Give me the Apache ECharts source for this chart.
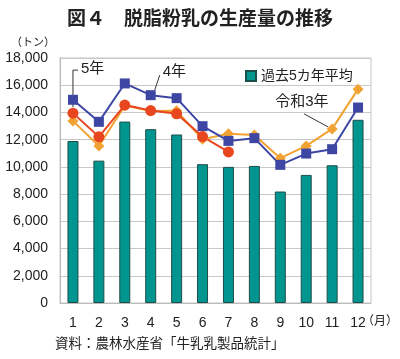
<!DOCTYPE html>
<html><head><meta charset="utf-8">
<script src="https://cdn.jsdelivr.net/npm/echarts@6/dist/echarts.min.js"></script>
<style>html,body{margin:0;padding:0;background:#fff}#c{width:400px;height:359px}</style>
</head><body><div id="c"></div>
<script>
var months = ['1','2','3','4','5','6','7','8','9','10','11','12'];
var avg5 = [11900,10460,13330,12770,12380,10200,10000,10070,8190,9410,10120,13460];
var r3 = [13380,11540,14500,14100,14120,12030,12430,12350,10640,11540,12790,15710];
var r4 = [14930,13310,16130,15270,15050,12990,11910,12110,10150,10980,11300,14360];
var r5 = [13950,12210,14540,14140,13900,12230,11100];
var yTicks = [0,2000,4000,6000,8000,10000,12000,14000,16000,18000];

var FF = '"Liberation Sans","Noto Sans CJK JP",sans-serif';
var chart = echarts.init(document.getElementById('c'));
chart.setOption({
  animation:false,
  title:{text:'図４　脱脂粉乳の生産量の推移',left:'center',top:3,
    textStyle:{fontFamily:'"Noto Sans CJK JP",sans-serif',fontSize:19,fontWeight:'bold',color:'#222'}},
  grid:{left:60,right:29,top:58,bottom:56,show:true,borderColor:'#c4c4c4',borderWidth:1},
  legend:{data:['過去5カ年平均'],left:240,top:64,itemWidth:10,itemHeight:10,itemGap:4,icon:'rect',
    textStyle:{fontFamily:FF,fontSize:14,color:'#222'}},
  xAxis:{type:'category',data:months,
    axisLine:{lineStyle:{color:'#bbb'}},axisTick:{show:false},
    axisLabel:{fontFamily:FF,fontSize:14,color:'#222',margin:13}},
  yAxis:{type:'value',min:yTicks[0],max:yTicks[yTicks.length-1],interval:2000,
    axisLine:{show:true,lineStyle:{color:'#bbb'}},
    splitLine:{lineStyle:{color:'#c8c8c8'}},
    axisLabel:{fontFamily:FF,fontSize:14,color:'#222',margin:12,
      formatter:function(v){return v.toLocaleString('en-US');}}},
  series:[
    {name:'過去5カ年平均',type:'bar',data:avg5,barWidth:11,
      itemStyle:{color:'#00958f',borderColor:'#1e4e4b',borderWidth:1}},
    {name:'令和3年',type:'line',data:r3,symbol:'diamond',symbolSize:11,
      lineStyle:{color:'#f2a233',width:2},itemStyle:{color:'#f2a233'}},
    {name:'4年',type:'line',data:r4,symbol:'rect',symbolSize:10,
      lineStyle:{color:'#3d47a3',width:2},itemStyle:{color:'#3d47a3'}},
    {name:'5年',type:'line',data:r5,symbol:'circle',symbolSize:11,
      lineStyle:{color:'#e8461f',width:2},itemStyle:{color:'#e8461f'}}
  ]
});

function px(i,v){return chart.convertToPixel({xAxisIndex:0,yAxisIndex:0},[i,v]);}
var p5 = px(0,r5[0]), p4 = px(3,r4[3]), p3 = px(10,r3[10]);
var ts = {fontFamily:FF,fontSize:14,fill:'#222'};
var lc = {stroke:'#333',lineWidth:1};
chart.setOption({graphic:[
  {type:'text',left:11,top:37,style:Object.assign({},ts,{text:'（トン）',fontSize:11})},
  {type:'text',left:362,top:316,style:Object.assign({},ts,{text:'（月）',fontSize:12})},
  {type:'text',left:55,top:338,style:Object.assign({},ts,{text:'資料：農林水産省「牛乳乳製品統計」',fontSize:13.5})},
  {type:'polyline',shape:{points:[[p5[0]+5,p5[1]-43],[p5[0],p5[1]-43],[p5[0],p5[1]-6]]},style:lc},
  {type:'text',x:p5[0]+8,y:p5[1]-52,style:Object.assign({},ts,{text:'5年',fontSize:15})},
  {type:'line',shape:{x1:p4[0]+4,y1:p4[1]-5,x2:p4[0]+9,y2:p4[1]-20},style:lc},
  {type:'text',x:p4[0]+12,y:p4[1]-31,style:Object.assign({},ts,{text:'4年',fontSize:15})},
  {type:'line',shape:{x1:p3[0]-4,y1:p3[1]-2,x2:p3[0]-28,y2:p3[1]-15},style:lc},
  {type:'text',x:p3[0]-57,y:p3[1]-35,style:Object.assign({},ts,{text:'令和3年',fontSize:15})}
]});
</script></body></html>
